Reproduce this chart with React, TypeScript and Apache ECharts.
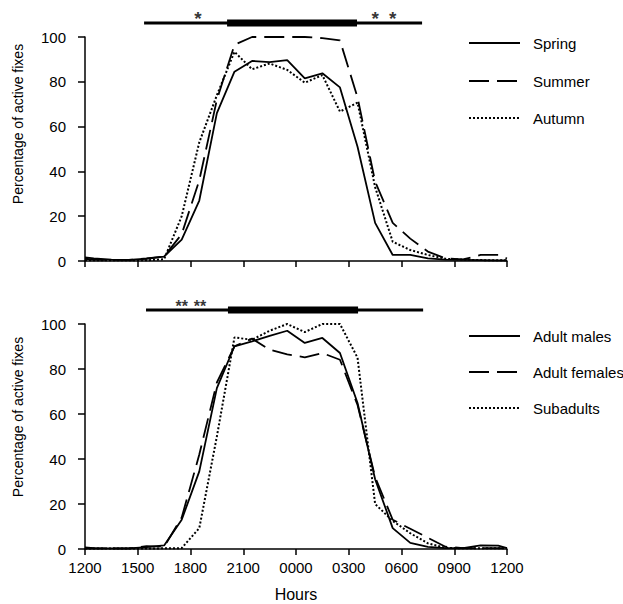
import React, { useEffect, useRef } from "react";
import * as echarts from "echarts";

// x positions in hours after 1200 (bins centred on half hours, plus end points)
const hoursX = [0, 0.5, 1.5, 2.5, 3.5, 4.5, 5.5, 6.5, 7.5, 8.5, 9.5, 10.5, 11.5, 12.5, 13.5, 14.5, 15.5, 16.5, 17.5, 18.5, 19.5, 20.5, 21.5, 22.5, 23.5, 24];
const tickLabels = ["1200", "1500", "1800", "2100", "0000", "0300", "0600", "0900", "1200"];

const spring = [1.6, 1.2, 0.6, 0.5, 1, 2, 9.5, 27, 66, 84.5, 89.3, 88.8, 89.7, 81.5, 83.8, 77.5, 51, 17, 2.7, 2.7, 1.2, 0.6, 0.5, 0.4, 0.3, 0.3];
const summer = [1, 0.6, 0.5, 0.5, 1.2, 2, 12, 36, 72, 96.5, 100, 100, 100, 100, 99.5, 98.5, 73, 35.5, 17, 10, 4.2, 1.2, 0.7, 2.7, 2.7, 1.1];
const autumn = [0.3, 0.3, 0.3, 0.3, 0.3, 0.8, 20, 53, 74, 93.4, 85.6, 88.2, 85.3, 79.6, 83, 66.7, 70.7, 33, 8.6, 4.9, 2.7, 1, 0.6, 0.4, 0.3, 0.3];

const adultMales = [0.7, 0.4, 0.3, 0.3, 0.8, 1.6, 13, 34.5, 71.5, 90.1, 92.3, 94.7, 97, 91.6, 93.8, 87.1, 64.9, 31, 9.3, 2.7, 0.9, 0.4, 0.4, 1.6, 1.5, 0.4];
const adultFemales = [0.3, 0.3, 0.3, 0.3, 1.3, 1, 14, 42, 74, 90.1, 93.5, 88.6, 86.5, 85.2, 87.1, 84.1, 64, 32, 13, 9, 5, 1, 0.4, 0.4, 0.4, 0.4];
const subadults = [0.2, 0.2, 0.2, 0.2, 0.2, 0.3, 0.4, 9.3, 50, 94, 93, 97, 100, 96.4, 100, 100, 85, 20, 12.5, 7, 2.5, 0.5, 0.3, 0.3, 0.3, 0.3];

// night bars: [start, end] in hours after 1200
const topThin = [3.36, 19.17];
const topThick = [8.08, 15.47];
const botThin = [3.47, 19.23];
const botThick = [8.13, 15.53];
const topStars = [6.43, 16.5, 17.5];
const botStars = [5.5, 6.54];

const FONT = "'Liberation Sans', Arial, Helvetica, sans-serif";
const SOLID = "solid";
const DASH = [20, 8];
const DOT = [2, 2];

function pairs(vals: number[]) {
  return hoursX.map((h, i) => [h, vals[i]]);
}

export default function App() {
  const ref = useRef<HTMLDivElement>(null);
  useEffect(() => {
    if (!ref.current) return;
    const chart = echarts.init(ref.current, undefined, { renderer: "svg" });

    const grids = [
      { left: 85, right: 116, top: 37, height: 224 },
      { left: 85, right: 116, top: 324, height: 225 },
      { left: 85, right: 116, top: 8, height: 20 },
      { left: 85, right: 116, top: 295, height: 20 },
    ];

    const mainX = (idx: number, labels: boolean) => ({
      type: "value",
      gridIndex: idx,
      min: 0,
      max: 24,
      interval: 3,
      axisLine: { show: true, lineStyle: { color: "#000", width: 1.5 } },
      axisTick: { show: true, length: 6, lineStyle: { color: "#000", width: 1.5 } },
      splitLine: { show: false },
      axisLabel: {
        show: labels,
        color: "#000",
        fontSize: 15,
        fontFamily: FONT,
        margin: 11,
        formatter: (v: number) => tickLabels[Math.round(v / 3)] ?? "",
      },
      name: labels ? "Hours" : "",
      nameLocation: "middle",
      nameGap: 37,
      nameTextStyle: { color: "#000", fontSize: 16, fontFamily: FONT },
    });

    const mainY = (idx: number) => ({
      type: "value",
      gridIndex: idx,
      min: 0,
      max: 100,
      interval: 20,
      offset: 9,
      axisLine: { show: true, lineStyle: { color: "#000", width: 1.5 } },
      axisTick: { show: true, length: 7, lineStyle: { color: "#000", width: 1.5 } },
      splitLine: { show: false },
      axisLabel: { color: "#000", fontSize: 15, fontFamily: FONT, margin: 10 },
    });

    const hiddenX = (idx: number) => ({ type: "value", gridIndex: idx, min: 0, max: 24, show: false });
    const hiddenY = (idx: number) => ({ type: "value", gridIndex: idx, min: 0, max: 1, show: false });

    const lineSeries = (name: string, vals: number[], type: any, axis: number, width: number) => ({
      name,
      type: "line",
      xAxisIndex: axis,
      yAxisIndex: axis,
      data: pairs(vals),
      symbol: "none",
      lineStyle: { color: "#000", width, type },
      z: 3,
    });

    const barSeries = (range: number[], axis: number, width: number) => ({
      type: "line",
      xAxisIndex: axis,
      yAxisIndex: axis,
      data: [
        [range[0], 0.25],
        [range[1], 0.25],
      ],
      symbol: "none",
      lineStyle: { color: "#000", width, cap: "butt" },
    });

    const starSeries = (xs: number[], axis: number, text: string, yv: number, size: number) => ({
      type: "scatter",
      xAxisIndex: axis,
      yAxisIndex: axis,
      data: xs.map((x) => [x, yv]),
      symbolSize: 1,
      itemStyle: { color: "rgba(0,0,0,0)" },
      label: {
        show: true,
        position: "inside",
        formatter: text,
        color: "#000",
        fontSize: size,
        fontWeight: "bold",
        fontFamily: FONT,
      },
    });

    const legendGroup = (items: { name: string; type: any }[], ys: number[]) =>
      items.flatMap((it, i) => [
        {
          type: "line",
          shape: { x1: 469, y1: ys[i], x2: 520, y2: ys[i] },
          style: { stroke: "#000", lineWidth: 2, lineDash: it.type === SOLID ? null : it.type },
        },
        {
          type: "text",
          x: 533,
          y: ys[i],
          style: { text: it.name, fill: "#000", font: `15px ${FONT}`, textAlign: "left", textVerticalAlign: "middle" },
        },
      ]);

    const yTitle = (y: number) => ({
      type: "text",
      x: 18,
      y,
      rotation: Math.PI / 2,
      style: {
        text: "Percentage of active fixes",
        fill: "#000",
        font: `14px ${FONT}`,
        textAlign: "center",
        textVerticalAlign: "middle",
      },
    });

    chart.setOption({
      animation: false,
      backgroundColor: "#fff",
      grid: grids,
      xAxis: [mainX(0, false), mainX(1, true), hiddenX(2), hiddenX(3)],
      yAxis: [mainY(0), mainY(1), hiddenY(2), hiddenY(3)],
      series: [
        lineSeries("Spring", spring, SOLID, 0, 1.8),
        lineSeries("Summer", summer, DASH, 0, 1.8),
        lineSeries("Autumn", autumn, DOT, 0, 2),
        lineSeries("Adult males", adultMales, SOLID, 1, 1.8),
        lineSeries("Adult females", adultFemales, DASH, 1, 1.8),
        lineSeries("Subadults", subadults, DOT, 1, 2),
        barSeries(topThin, 2, 3),
        barSeries(topThick, 2, 7),
        barSeries(botThin, 3, 3),
        barSeries(botThick, 3, 7),
        starSeries(topStars, 2, "*", 0.5, 19),
        starSeries(botStars, 3, "**", 0.45, 16),
      ],
      graphic: [
        ...legendGroup(
          [
            { name: "Spring", type: SOLID },
            { name: "Summer", type: DASH },
            { name: "Autumn", type: DOT },
          ],
          [43, 81, 118]
        ),
        ...legendGroup(
          [
            { name: "Adult males", type: SOLID },
            { name: "Adult females", type: DASH },
            { name: "Subadults", type: DOT },
          ],
          [336, 372, 408]
        ),
        yTitle(124),
        yTitle(417),
      ],
    });
    return () => chart.dispose();
  }, []);
  return <div ref={ref} style={{ width: 623, height: 604, position: "absolute", left: 0, top: 0 }} />;
}
